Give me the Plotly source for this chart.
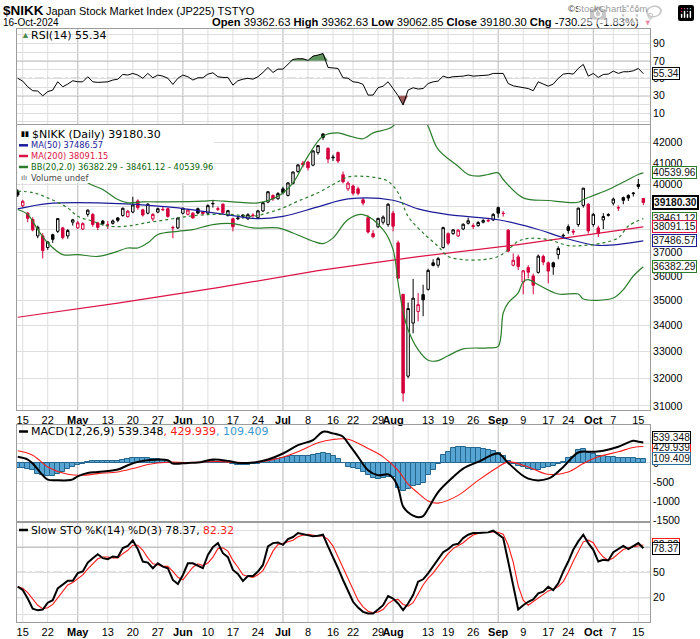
import numpy as np
import pandas as pd
import plotly.graph_objects as go

# ------------------------------------------------------------------ data
holidays = ["2024-04-29", "2024-05-03", "2024-05-06", "2024-07-15", "2024-08-12",
            "2024-09-16", "2024-09-23", "2024-10-14"]
dates = [d for d in pd.bdate_range("2024-04-12", "2024-10-16")
         if d.strftime("%Y-%m-%d") not in holidays]
day = list(range(len(dates)))
N = len(day)

prev_close = 39442.63

open_ = [39700, 39030, 38700, 38420, 37700, 37700, 37200, 37750, 37900, 38050,
         37700, 38300, 38050, 38000, 38650, 38650, 38270, 38350, 38185, 38250,
         38490, 38600, 38550, 38750, 39250, 38850, 38700, 38450, 38750, 38870,
         38900, 38070, 38050, 38700, 38650, 38700, 38900, 38750, 38700, 39120,
         38900, 39100, 38600, 38450, 38450, 38620, 38450, 38620, 38500, 38800,
         39200, 39500, 39350, 39800, 39500, 40050, 40600, 41000, 41050, 40900,
         41500, 42400, 41700, 41250, 41500, 40450, 39800, 39930, 39800, 39300,
         38500, 37800, 38100, 38300, 38200, 38700, 37400, 35249, 32077, 34100,
         34560, 35235, 35450, 36550, 36450, 37200, 37800, 37800, 37700, 38000,
         38250, 38150, 38150, 38300, 38380, 38400, 38950, 38700, 37950, 36450,
         36800, 35750, 36350, 36000, 36150, 36820, 36550, 36550, 36900, 37700,
         38100, 37900, 38200, 39050, 39100, 38200, 38050, 38400, 38600, 39150,
         38950, 39400, 39500, 39580, 40000, 39362.63]
high = [39780, 39300, 38760, 38520, 38150, 37820, 37470, 37800, 38480, 38100,
        38000, 38450, 38350, 38300, 38870, 38700, 38320, 38400, 38350, 38420,
        38520, 38950, 38850, 39440, 39320, 38900, 39150, 38700, 38950, 39000,
        38950, 38150, 38520, 38950, 38900, 38750, 38950, 38800, 39100, 39300,
        39000, 39150, 38850, 38500, 38550, 38650, 38700, 38700, 38850, 39200,
        39700, 39550, 39650, 39900, 40100, 40600, 40950, 41100, 41100, 41600,
        41850, 42426, 41750, 41400, 41550, 40600, 40150, 40000, 39900, 39400,
        38600, 37950, 38500, 38600, 39150, 38800, 37500, 35249, 34911, 35880,
        35300, 35640, 36300, 36700, 36800, 38100, 37850, 38000, 38000, 38250,
        38500, 38250, 38350, 38450, 38500, 38700, 39000, 38800, 38000, 36950,
        36900, 36250, 36450, 36100, 36900, 36900, 36600, 36600, 37250, 37800,
        38200, 38000, 38950, 39850, 39150, 38700, 38150, 38700, 38700, 39400,
        39050, 39450, 39550, 39650, 40257, 39362.63]
low = [39430, 38950, 38300, 37900, 37600, 36733, 37100, 37400, 37830, 37550,
       37580, 38150, 38000, 37950, 38550, 38100, 37950, 38150, 38000, 38200,
       38300, 38550, 38500, 38700, 38850, 38550, 38650, 38350, 38700, 38800,
       38500, 37600, 38000, 38650, 38600, 38450, 38650, 38600, 38650, 38950,
       38800, 38650, 38550, 37900, 38400, 38450, 38400, 38500, 38450, 38750,
       39150, 39250, 39300, 39550, 39450, 40000, 40550, 40800, 40650, 40850,
       41400, 42100, 41000, 41100, 41000, 40050, 39700, 39500, 39500, 39050,
       37800, 37600, 38050, 38200, 38100, 37900, 35880, 31156, 32000, 33700,
       34170, 34370, 35400, 36400, 36350, 37150, 37300, 37750, 37650, 37950,
       38200, 38000, 38100, 38250, 38300, 38350, 38500, 38550, 37000, 36400,
       36250, 35250, 35900, 35250, 36100, 36450, 35700, 36050, 36700, 37600,
       37800, 37750, 38100, 38950, 37800, 38100, 37650, 38000, 38550, 39050,
       38800, 39100, 39250, 39450, 39800, 39062.85]
close = [39523.55, 39232.80, 38471.20, 37961.80, 38079.70, 37068.35, 37438.61, 37552.16, 38460.08, 37628.48,
         37934.76, 38405.66, 38274.05, 38236.07, 38835.10, 38202.37, 38073.98, 38229.11, 38179.46, 38356.06,
         38385.73, 38920.26, 38787.38, 39069.68, 38946.93, 38617.10, 39103.22, 38646.11, 38900.02, 38855.37,
         38556.87, 38054.13, 38487.90, 38923.03, 38837.46, 38490.17, 38703.51, 38683.93, 39038.16, 39134.79,
         38876.71, 38720.47, 38814.56, 38102.44, 38482.11, 38570.76, 38633.02, 38596.47, 38804.65, 39173.15,
         39667.07, 39341.54, 39583.08, 39631.06, 40074.69, 40580.76, 40913.65, 40912.37, 40780.70, 41580.17,
         41831.99, 42224.02, 41190.68, 41275.08, 41097.69, 40126.35, 40063.79, 39599.00, 39594.39, 39154.85,
         37869.51, 37667.41, 38468.63, 38525.95, 39101.82, 38126.33, 35909.70, 31458.42, 34675.46, 35089.62,
         34831.15, 35025.00, 36232.51, 36442.43, 36726.64, 38062.67, 37388.62, 37963.97, 37951.80, 38211.01,
         38364.27, 38110.22, 38288.62, 38371.76, 38362.53, 38647.75, 38700.87, 38686.31, 37047.61, 36657.09,
         36391.47, 36215.75, 36159.16, 35619.77, 36833.27, 36581.76, 36203.22, 36380.17, 37155.33, 37723.91,
         37940.59, 37870.26, 38925.63, 39829.56, 37919.55, 38651.97, 37808.76, 38552.06, 38635.62, 39332.74,
         38937.54, 39277.96, 39380.89, 39605.80, 39910.55, 39180.30]

# overlays (trading-day number, value)
ma50_day = [0, 6, 16, 30, 36, 43, 48, 53, 60, 66, 75, 80, 86, 96, 103, 110, 116, 125]
ma50 = [38890, 39130, 39160, 38980, 38815, 38590, 38455, 38560, 38980, 39340, 39280, 38890,
        38635, 38410, 38045, 37565, 37290, 37486.57]
ma200_day = [0, 20, 40, 60, 80, 100, 125]
ma200 = [34330, 34890, 35520, 36220, 36810, 37325, 38091.15]

bb_up_day = [0, 3, 6, 10, 14, 17, 20, 22, 25, 30, 37, 39, 43, 48, 52, 55, 58, 61, 64, 66,
             69, 71, 75, 77, 79, 82, 84, 88, 90, 92, 94, 96, 97, 101, 106, 112, 113, 115, 118, 122,
             124, 125]
bb_up = [40530, 40960, 41380, 40970, 40080, 39770, 39314, 39165, 39210, 39210,
         39240, 39270, 39210, 39165, 39460, 40080, 41330, 42290, 42450, 42320,
         42165, 42450, 42780, 44000, 44200, 42780, 41648, 40850, 40464, 40390,
         40464, 40540, 40231, 39390, 39270, 39190, 39314, 39495, 39770, 40231,
         40464, 40539.96]
bb_mid_day = [0, 3, 6, 10, 12, 15, 18, 22, 25, 30, 34, 38, 43, 47, 50, 53, 56, 60, 63, 66,
              69, 72, 74, 76, 78, 81, 84, 86, 89, 93, 96, 98, 100, 102, 106, 110, 113, 117, 120, 122,
              125]
bb_mid = [39690, 39630, 39390, 38935, 38560, 38345, 38130, 38130, 38250, 38418,
          38560, 38640, 38640, 38560, 38715, 38935, 39240, 39620, 40000, 40350,
          40380, 40300, 40150, 39620, 38560, 37830, 37250, 36820, 36686, 36686,
          36820, 37111, 37470, 37590, 37542, 37285, 37285, 37400, 37615, 38130,
          38461.12]
bb_lo_day = [0, 2, 4, 6, 9, 12, 16, 19, 22, 24, 26, 28, 32, 35, 39, 43, 47, 52, 55, 59,
             61, 63, 66, 69, 73, 75, 76, 77, 78, 80, 82, 84, 86, 89, 94, 96, 97, 98, 100, 101,
             102, 104, 108, 112, 113, 119, 121, 123, 125]
bb_lo = [38863, 38640, 37977, 37400, 36898, 36898, 36820, 36970, 37180, 37180,
         37400, 37759, 37900, 37977, 38197, 38240, 38050, 38050, 37830, 37470,
         37370, 37615, 38418, 38640, 37977, 37111, 35720, 34550, 33840, 33070,
         32670, 32655, 32840, 33100, 33140, 33200, 34500, 34900, 35310, 35770,
         35850, 35640, 35260, 35260, 35060, 35100, 35440, 36000, 36382.29]

rsi = [50, 46.8, 40.3, 35.8, 35.4, 30.0, 34.8, 36.5, 46, 40.3,
       43.4, 47.2, 46, 46, 51.8, 46, 45.3, 46, 46, 48,
       49, 54.4, 53.7, 55.6, 53.7, 50, 55.6, 50.6, 53.7, 52.5,
       50, 43, 50, 53.7, 51.8, 48, 50.6, 50.6, 54.8, 56.3,
       51.8, 51, 51, 42.2, 47.2, 49, 50, 49, 51.8, 56.7,
       62.4, 56.7, 60.5, 60.5, 65.9, 71.6, 72.4, 72.4, 70.5, 75.4,
       76.6, 78.4, 62.4, 62, 61.3, 50.6, 50,
       46, 45.3, 43, 30.8, 30.8, 39.2, 41, 46, 38.3, 30,
       19.4, 36.5, 39.2, 37.7, 38.3, 44, 46, 46.8, 52.5, 50.6,
       51.8, 51.8, 52.5, 53.7, 52.5, 52.9, 53.7, 53.7, 55.6, 55.6,
       55.6, 44, 41.4, 40.3, 39.2, 38.3, 35.8, 46, 43.4, 41,
       43.4, 50, 54.8, 55.6, 54.8, 61.3, 65.9, 52.5, 55.6, 51,
       54.4, 54.8, 58.2, 55.6, 57.5, 57.5, 58.6, 61.3, 55.34]

macd_day = [0, 2, 3, 5, 6, 8, 10, 11, 12, 14, 16, 20, 22, 24, 26, 30, 31, 34, 36, 39,
            42, 44, 47, 50, 53, 56, 59, 61, 63, 65, 66, 68, 70, 72, 74, 75, 76, 77, 78, 79,
            80, 81, 82, 84, 87, 89, 92, 96, 98, 102, 106, 109, 112, 115, 117, 120, 123, 124, 125]
macd = [159, 88, -18, -326, -441, -459, -459, -432, -353, -265,
        -238, -176, -62, 26, 71, 71, -18, 0, 9, 88,
        53, 0, 9, 88, 247, 467, 600, 820, 776, 688,
        520, 159, -194, -326, -300, -400, -650, -1150, -1300, -1390,
        -1429, -1400, -1208, -767, -370, -150, 26, 247, 0, -415,
        -415, -106, 273, 291, 318, 423, 582, 556, 539.348]
sig_day = [0, 3, 6, 10, 13, 16, 20, 23, 26, 30, 34, 40, 43, 48, 52, 56, 60, 63, 66, 70,
           73, 76, 78, 80, 82, 84, 88, 92, 96, 98, 102, 106, 110, 113, 116, 120, 123, 125]
sig = [318, 203, -106, -300, -326, -282, -238, -150, -44, 18,
       9, 35, 18, 18, 115, 291, 529, 617, 620, 379,
       159, -194, -560, -794, -1000, -1058, -855, -459, -106, 26,
       -106, -300, -238, -18, 159, 291, 406, 429.939]
hist = [-130, -140, -160, -200, -280, -330, -350, -340, -290, -230,
        -170, -120, -60, -20, 20, 40, 45, 50, 55, 55,
        60, 80, 100, 120, 130, 125, 120, 110, 90, 70,
        40, -10, -5, 0, 5, -5, 0, 5, 20, 45,
        35, 25, 10, -40, -45, -45, -45, -40, -30, 5,
        60, 70, 90, 120, 150, 170, 180, 175, 180, 210,
        240, 260, 230, 180, 90, 0, -100,
        -140, -170, -250, -320, -400, -420, -400, -360, -380, -650,
        -730, -700, -620, -580, -520, -330, -200, -20, 200, 290,
        380, 410, 410, 400, 385, 380, 360, 340, 310, 250,
        170, 60, -20, -70, -100, -170, -200, -190, -130, -110,
        -90, -30, 20, 120, 160, 330, 370, 250, 230, 180,
        170, 160, 150, 140, 130, 125, 120, 115, 109.409]

sto_k = [33, 29, 19, 7, 5, 6, 14, 17, 31, 35,
         40, 40, 49, 51, 61.5, 66.7, 71.4, 66.7, 65.5, 68.7,
         67.9, 78.6, 81.3, 87.7, 77.4, 62.7, 61.5, 54.8, 60.7, 56.7,
         54.8, 40.9, 36.1, 46.8, 60.7, 60.7, 57.5, 54.8, 70.6, 79.8,
         84.5, 72.6, 67.9, 52.8, 48, 39.7, 45.6, 45.6, 50.8, 58.7,
         80.6, 84.5, 85.3, 82.5, 89.3, 91.7, 96.4, 95.2, 93.3, 92.5,
         93.3, 94.4, 80.6, 68.7, 54.8, 40.9, 27,
         15.1, 8.3, 3.2, 1.2, 1.2, 6, 11.1, 21.8, 19, 13.1,
         5.2, 13.1, 23, 38.9, 41.7, 48.8, 56.7, 64.7, 73.8, 77.4,
         82.5, 83.7, 90.5, 94.4, 96.4, 96.4, 97.2, 97.2, 99.2, 94.4,
         90.5, 62.7, 32.9, 6, 11.1, 15.1, 17.9, 25, 27, 32.9,
         29, 36.9, 50.8, 62.7, 76.6, 86.5, 94.4, 84.5, 76.6, 62.7,
         64.7, 63.9, 73.8, 77.4, 81.3, 77.4, 81.3, 84.5, 78.37]
sto_d = [33, 31, 26, 18, 11, 7, 8, 12, 20, 27,
         35, 38, 43, 47, 54, 60, 66, 68, 68, 67,
         67, 72, 76, 82, 82, 76, 67, 60, 59, 57,
         57, 51, 44, 41, 48, 56, 60, 58, 61, 68,
         78, 79, 75, 64, 56, 47, 45, 44, 47, 52,
         63, 75, 83, 84, 86, 88, 92, 94, 95, 94,
         93, 93, 89, 81, 68, 55, 41,
         28, 17, 9, 4, 2, 3, 6, 13, 17, 18,
         12, 10, 14, 25, 35, 43, 49, 57, 65, 72,
         78, 81, 85, 90, 94, 96, 97, 97, 98, 97,
         95, 82, 62, 34, 17, 11, 15, 19, 23, 28,
         30, 33, 39, 50, 63, 75, 86, 88, 85, 75,
         68, 64, 67, 72, 77, 79, 80, 81, 82.32]

tick_dates = ["2024-04-15", "2024-04-22", "2024-05-01", "2024-05-13", "2024-05-20", "2024-05-27",
              "2024-06-03", "2024-06-10", "2024-06-17", "2024-06-24", "2024-07-01", "2024-07-08",
              "2024-07-16", "2024-07-22", "2024-07-29", "2024-08-01", "2024-08-13", "2024-08-19",
              "2024-08-26", "2024-09-02", "2024-09-09", "2024-09-17", "2024-09-24", "2024-10-01",
              "2024-10-07", "2024-10-15"]
tick_labels = ["15", "22", "May", "13", "20", "27", "Jun", "10", "17", "24", "Jul", "8", "16",
               "22", "29", "Aug", "13", "19", "26", "Sep", "9", "17", "24", "Oct", "7", "15"]
months = ["May", "Jun", "Jul", "Aug", "Sep", "Oct"]

# ------------------------------------------------------------------ geometry
W, H = 700, 639
ML, MR = 17, 50
PW = W - ML - MR
XR = [-0.14, 126.33]
RSI_T, RSI_B = 28.5, 124
MAIN_T, MAIN_B = 124.5, 410
MACD_T, MACD_B = 425, 520.5
STO_T, STO_B = 523, 622


def fx(px):
    return (px - ML) / PW


def fy(py):
    return 1 - py / H


BLACK = "#000000"
RED = "#d4003c"
GREEN = "#2b7d2b"
BLUE = "#1c1c9a"
MA200C = "#dc1446"
GRID = "#dedede"
MONTHG = "#b8b8b8"
FRAME = "#9c9c9c"
LVL = "#767676"

idx_of = {d.strftime("%Y-%m-%d"): i for i, d in enumerate(dates)}
tick_idx = [idx_of[d] for d in tick_dates]
tick_txt = [f"<b>{t}</b>" if t in months else t for t in tick_labels]

fig = go.Figure()
nolg = dict(showlegend=False, hoverinfo="skip")

# ------------------------------------------------------------------ RSI
rsi_a = np.array(rsi)
fig.add_trace(go.Scatter(x=day, y=[70] * N, mode="lines", line=dict(width=0), xaxis="x", yaxis="y", **nolg))
fig.add_trace(go.Scatter(x=day, y=np.maximum(rsi_a, 70), mode="lines", line=dict(width=0),
                         fill="tonexty", fillcolor="#5e925e", xaxis="x", yaxis="y", **nolg))
fig.add_trace(go.Scatter(x=day, y=[30] * N, mode="lines", line=dict(width=0), xaxis="x", yaxis="y", **nolg))
fig.add_trace(go.Scatter(x=day, y=np.minimum(rsi_a, 30), mode="lines", line=dict(width=0),
                         fill="tonexty", fillcolor="#a05c5c", xaxis="x", yaxis="y", **nolg))
fig.add_trace(go.Scatter(x=day, y=rsi, mode="lines", line=dict(color=BLACK, width=1),
                         xaxis="x", yaxis="y", **nolg))

# ------------------------------------------------------------------ price
prev = [prev_close] + close[:-1]
groups = {}
for i in day:
    col = BLACK if close[i] >= prev[i] else RED
    hollow = close[i] > open_[i]
    groups.setdefault((col, hollow), []).append(i)
for (col, hollow), ids in groups.items():
    fillc = "white" if hollow else col
    sty = dict(fillcolor=fillc, line=dict(color=col, width=1))
    fig.add_trace(go.Candlestick(
        x=[day[i] for i in ids], open=[open_[i] for i in ids], high=[high[i] for i in ids],
        low=[low[i] for i in ids], close=[close[i] for i in ids],
        increasing=sty, decreasing=sty, whiskerwidth=0,
        xaxis="x2", yaxis="y2", **nolg))

fig.add_trace(go.Scatter(x=ma200_day, y=ma200, mode="lines", line=dict(color=MA200C, width=1.2),
                         xaxis="x2", yaxis="y2", **nolg))
fig.add_trace(go.Scatter(x=ma50_day, y=ma50, mode="lines", line=dict(color=BLUE, width=1.2, shape="spline"),
                         xaxis="x2", yaxis="y2", **nolg))
fig.add_trace(go.Scatter(x=bb_up_day, y=bb_up, mode="lines", line=dict(color=GREEN, width=1.2, shape="spline"),
                         xaxis="x2", yaxis="y2", **nolg))
fig.add_trace(go.Scatter(x=bb_mid_day, y=bb_mid, mode="lines",
                         line=dict(color=GREEN, width=1.2, dash="dot", shape="spline"),
                         xaxis="x2", yaxis="y2", **nolg))
fig.add_trace(go.Scatter(x=bb_lo_day, y=bb_lo, mode="lines", line=dict(color=GREEN, width=1.2, shape="spline"),
                         xaxis="x2", yaxis="y2", **nolg))

# ------------------------------------------------------------------ MACD
fig.add_trace(go.Bar(x=day, y=hist, width=1, marker=dict(color="#57a5d2", line=dict(color="#25668f", width=1)),
                     xaxis="x3", yaxis="y3", **nolg))
fig.add_trace(go.Scatter(x=sig_day, y=sig, mode="lines", line=dict(color="#ff1a1a", width=1.1, shape="spline"),
                         xaxis="x3", yaxis="y3", **nolg))
fig.add_trace(go.Scatter(x=macd_day, y=macd, mode="lines", line=dict(color=BLACK, width=2, shape="spline"),
                         xaxis="x3", yaxis="y3", **nolg))

# ------------------------------------------------------------------ STO
fig.add_trace(go.Scatter(x=day, y=sto_d, mode="lines", line=dict(color="#ff1a1a", width=1.1),
                         xaxis="x4", yaxis="y4", **nolg))
fig.add_trace(go.Scatter(x=day, y=sto_k, mode="lines", line=dict(color=BLACK, width=2),
                         xaxis="x4", yaxis="y4", **nolg))

# ------------------------------------------------------------------ axes
tickf = dict(family="Liberation Sans, Arial", size=11, color="#000")
ytickf = dict(family="Liberation Sans, Arial", size=10.5, color="#000")


def xax(show, anchor):
    return dict(range=XR, domain=[0, 1], anchor=anchor, tickmode="array", tickvals=tick_idx,
                ticktext=tick_txt, showticklabels=show, tickangle=0, showgrid=False,
                zeroline=False, showline=True, mirror=True, linecolor=FRAME, linewidth=1,
                ticks="", tickfont=tickf, fixedrange=True)


def yax(dom, anchor, **kw):
    d = dict(domain=[fy(dom[1]), fy(dom[0])], anchor=anchor, side="right", showgrid=True, gridcolor=GRID,
             zeroline=False, showline=True, mirror=True, linecolor=FRAME, linewidth=1, ticks="",
             tickfont=ytickf, fixedrange=True)
    d.update(kw)
    return d


main_ticks = list(range(31000, 42001, 1000))
fig.update_layout(
    width=W, height=H, margin=dict(l=ML, r=MR, t=0, b=0, autoexpand=False),
    paper_bgcolor="white", plot_bgcolor="white", showlegend=False, bargap=0,
    xaxis=xax(False, "y"),
    xaxis2=dict(xax(True, "y2"), rangeslider=dict(visible=False)),
    xaxis3=xax(False, "y3"),
    xaxis4=xax(True, "y4"),
    yaxis=yax((RSI_T, RSI_B), "x", range=[-2.3, 107], tickmode="array",
              tickvals=list(range(0, 101, 10)),
              ticktext=["", "10", "", "30", "", "50", "", "70", "", "90", ""]),
    yaxis2=yax((MAIN_T, MAIN_B), "x2", type="log", range=[4.48928, 4.63207], tickmode="array",
               tickvals=main_ticks, ticktext=[str(v) for v in main_ticks]),
    yaxis3=yax((MACD_T, MACD_B), "x3", range=[-1516, 997], tickmode="array",
               tickvals=[-1500, -1000, -500, 0, 500], ticktext=["-1500", "-1000", "-500", "0", "500"]),
    yaxis4=yax((STO_T, STO_B), "x4", range=[-8.8, 108.3], tickmode="array",
               tickvals=[0, 20, 50, 80, 100], ticktext=["", "20", "50", "80", ""]),
)

shapes = []
panels = [("x", "y"), ("x2", "y2"), ("x3", "y3"), ("x4", "y4")]
for xr, yr in panels:
    for t, lab in zip(tick_idx, tick_labels):
        shapes.append(dict(type="line", xref=xr, yref=yr + " domain", x0=t, x1=t, y0=0, y1=1,
                           line=dict(color=MONTHG if lab in months else GRID, width=1), layer="below"))
for yv, dash in [(70, "solid"), (30, "solid"), (50, "dashdot")]:
    shapes.append(dict(type="line", xref="paper", yref="y", x0=0, x1=1, y0=yv, y1=yv,
                       line=dict(color=LVL, width=1, dash=dash), layer="below"))
for yv, dash in [(80, "solid"), (20, "solid"), (50, "dashdot")]:
    shapes.append(dict(type="line", xref="paper", yref="y4", x0=0, x1=1, y0=yv, y1=yv,
                       line=dict(color=LVL, width=1, dash=dash), layer="below"))
# legend box in price panel
shapes.append(dict(type="rect", xref="paper", yref="paper", x0=fx(17.5), x1=fx(214), y0=fy(183), y1=fy(125),
                   fillcolor="white", line=dict(width=0), layer="above"))
# legend dash icons
for py, c in [(145.3, BLUE), (156, MA200C), (167, GREEN)]:
    shapes.append(dict(type="line", xref="paper", yref="paper", x0=fx(19), x1=fx(28), y0=fy(py), y1=fy(py),
                       line=dict(color=c, width=2.5), layer="above"))
for py in [431.5, 530]:
    shapes.append(dict(type="line", xref="paper", yref="paper", x0=fx(19), x1=fx(28), y0=fy(py), y1=fy(py),
                       line=dict(color=BLACK, width=2.5), layer="above"))
fig.update_layout(shapes=shapes)

# ------------------------------------------------------------------ text
VERD = "DejaVu Sans, Verdana"
ARIAL = "Liberation Sans, Arial"


def ann(px, py, text, size, family, color="#000", xanchor="left"):
    fig.add_annotation(x=fx(px), y=fy(py), xref="paper", yref="paper", text=text, showarrow=False,
                       xanchor=xanchor, yanchor="middle", font=dict(family=family, size=size, color=color))


chg = close[-1] - close[-2]
pct = chg / close[-2] * 100
ann(1, 10.5, "<b>$NIKK</b>", 13.5, ARIAL)
ann(44, 10.5, "Japan Stock Market Index (JP225) TSTYO", 11, ARIAL)
ann(649, 9, "©StockCharts.com", 9.5, ARIAL, "#333", "right")
ann(1, 22, "16-Oct-2024", 10, ARIAL)
ann(641, 22, f"<b>Open</b> {open_[-1]:.2f} <b>High</b> {high[-1]:.2f} <b>Low</b> {low[-1]:.2f} "
              f"<b>Close</b> {close[-1]:.2f} <b>Chg</b> {chg:.2f} ({pct:.2f}%)", 11.2, ARIAL, "#000", "right")
ann(642, 22.5, "▼", 7.5, ARIAL, RED)

# panel legends
ann(19, 35, "▲", 9, ARIAL, "#4d8a4d")
ann(29, 35, f"RSI(14) {rsi[-1]:.2f}", 11, VERD)
ann(18.5, 134.3, "<b>▮▮</b>", 7, ARIAL)
ann(29.5, 134.3, f"$NIKK (Daily) {close[-1]:.2f}", 11, VERD)
ann(28.5, 145.3, f"MA(50) {ma50[-1]:.2f}", 8.3, VERD, BLUE)
ann(28.5, 156, f"MA(200) {ma200[-1]:.2f}", 8.3, VERD, MA200C)
ann(28.5, 167, f"BB(20,2.0) {bb_lo[-1]:.2f} - {bb_mid[-1]:.2f} - {bb_up[-1]:.2f}", 8.3, VERD, "#0e660e")
ann(18.5, 177.5, "ılı", 8, ARIAL, "#666")
ann(28.5, 177.5, "Volume undef", 8.3, VERD, "#444")
ann(29, 431.5, f"MACD(12,26,9) {macd[-1]:.3f}<span style='color:#ff1a1a'>, {sig[-1]:.3f}</span>"
               f"<span style='color:#3a9ad0'>, {hist[-1]:.3f}</span>", 11, VERD)
ann(29, 530, f"Slow STO %K(14) %D(3) {sto_k[-1]:.2f}, <span style='color:#ff1a1a'>{sto_d[-1]:.2f}</span>",
    10.8, VERD)

# value tags on the right
XTIP = XR[1] + 0.15


def tag(xref, yref, yval, ypos, text, color, bw=1, bold=False, yshift=0):
    fig.add_trace(go.Scatter(x=[XTIP], y=[yval], mode="markers", cliponaxis=False,
                             marker=dict(symbol="triangle-left", size=8, color="white",
                                         line=dict(color=color, width=1)),
                             xaxis=xref, yaxis=yref, **nolg))
    fig.add_annotation(x=fx(652), xref="paper", xanchor="left", y=ypos, yref=yref, yanchor="middle",
                       yshift=yshift, text=f"<b>{text}</b>" if bold else text, showarrow=False,
                       font=dict(family=ARIAL, size=10.2, color="#111"),
                       bgcolor="white", bordercolor=color, borderwidth=bw, borderpad=0)


tag("x", "y", rsi[-1], rsi[-1], f"{rsi[-1]:.2f}", BLACK)
for v, c in [(bb_up[-1], GREEN), (bb_mid[-1], GREEN), (bb_lo[-1], GREEN), (ma50[-1], BLUE), (ma200[-1], MA200C)]:
    tag("x2", "y2", v, np.log10(v), f"{v:.2f}", c)
tag("x2", "y2", close[-1], np.log10(close[-1]), f"{close[-1]:.2f}", BLACK, bw=2, bold=True)
tag("x3", "y3", sig[-1], sig[-1], f"{sig[-1]:.3f}", "#ff1a1a", yshift=-1)
tag("x3", "y3", macd[-1], macd[-1], f"{macd[-1]:.3f}", BLACK, yshift=5)
tag("x3", "y3", hist[-1], hist[-1], f"{hist[-1]:.3f}", "#2a6e9e")
tag("x4", "y4", sto_d[-1], sto_d[-1], f"{sto_d[-1]:.2f}", "#ff1a1a")
tag("x4", "y4", sto_k[-1], sto_k[-1], f"{sto_k[-1]:.2f}", BLACK)

fig.write_html("out.html", post_script="document.body.style.margin='0px';")
